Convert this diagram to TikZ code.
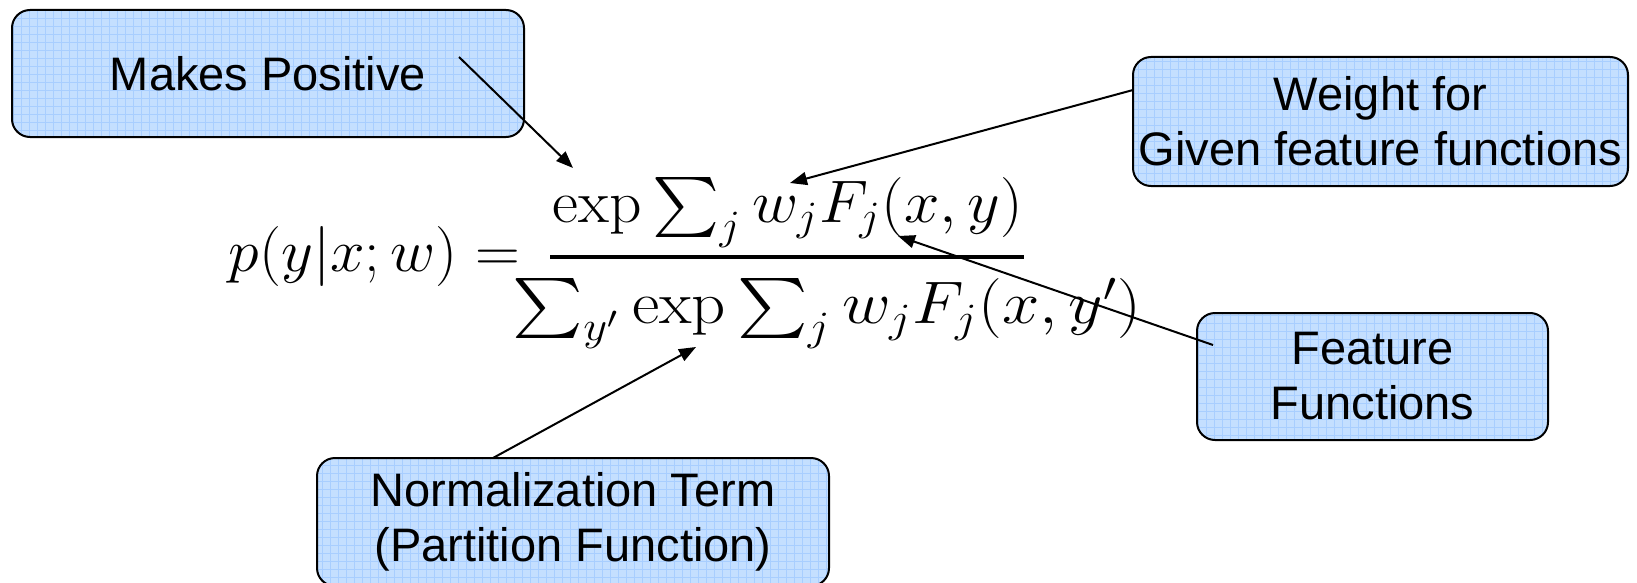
\documentclass[tikz,border=0pt]{standalone}
\usepackage{amsmath}
\usepackage{fontspec}
\DeclareMathSizes{17.28}{17.28}{12}{9}
\newfontfamily\boxfont{Liberation Sans}
\usetikzlibrary{arrows.meta}
\definecolor{boxfill}{RGB}{196,223,255}
\definecolor{boxgrid}{RGB}{168,206,255}
\tikzset{
  callout/.style={draw=black, line width=2pt, rounded corners=18pt, fill=boxfill,
    align=center, inner sep=0pt, font=\boxfont\fontsize{47}{55}\selectfont,
    path picture={\draw[boxgrid, line width=1pt] (path picture bounding box.south west) grid[step=8pt] (path picture bounding box.north east);}},
  pointer/.style={draw=black, line width=2pt, -{Triangle[length=17pt,width=13pt]}},
  mathpart/.style={inner sep=0pt, font=\fontsize{17.28}{20}\selectfont, scale=3.472, transform shape},
}
\begin{document}
\begin{tikzpicture}[x=1pt,y=-1pt]
\useasboundingbox (0,0) rectangle (1637,583);
% formula
\node[mathpart, anchor=base west, xscale=1.035] (lhs) at (228,271) {$p(y|x;w) =$};
\node[mathpart, anchor=base west, xscale=1.06] (num) at (552,222) {$\exp\sum_j w_j F_j(x,y)$};
\node[mathpart, anchor=base west, xscale=1.116] (den) at (512,323) {$\sum_{y'}\exp\sum_j w_j F_j(x,y')$};
\coordinate (barL) at (550,257);
\coordinate (barR) at (1024,257);
\draw[line width=4pt] (barL) -- (barR);
% callouts
\node[callout, minimum width=512pt, minimum height=127pt] (mp) at (268,73.5) {Makes Positive};
\node[callout, minimum width=495pt, minimum height=129pt] (wt) at (1380.5,121.5) {Weight for\\Given feature functions};
\node[callout, minimum width=351pt, minimum height=127pt] (ff) at (1372.5,376.5) {Feature\\Functions};
\node[callout, minimum width=512pt, minimum height=128pt] (nt) at (573,522) {Normalization Term\\(Partition Function)};
% pointer ends
\coordinate (mpS) at (459,57);
\coordinate (mpT) at (573,168);
\coordinate (wtS) at (1133,90);
\coordinate (wtT) at (790,183);
\coordinate (ffS) at (1213,345);
\coordinate (ffT) at (898,236);
\coordinate (ntS) at (493,458);
\coordinate (ntT) at (696,347);
\draw[pointer] (mpS) -- (mpT);
\draw[pointer] (wtS) -- (wtT);
\draw[pointer] (ffS) -- (ffT);
\draw[pointer] (ntS) -- (ntT);
\end{tikzpicture}
\end{document}
